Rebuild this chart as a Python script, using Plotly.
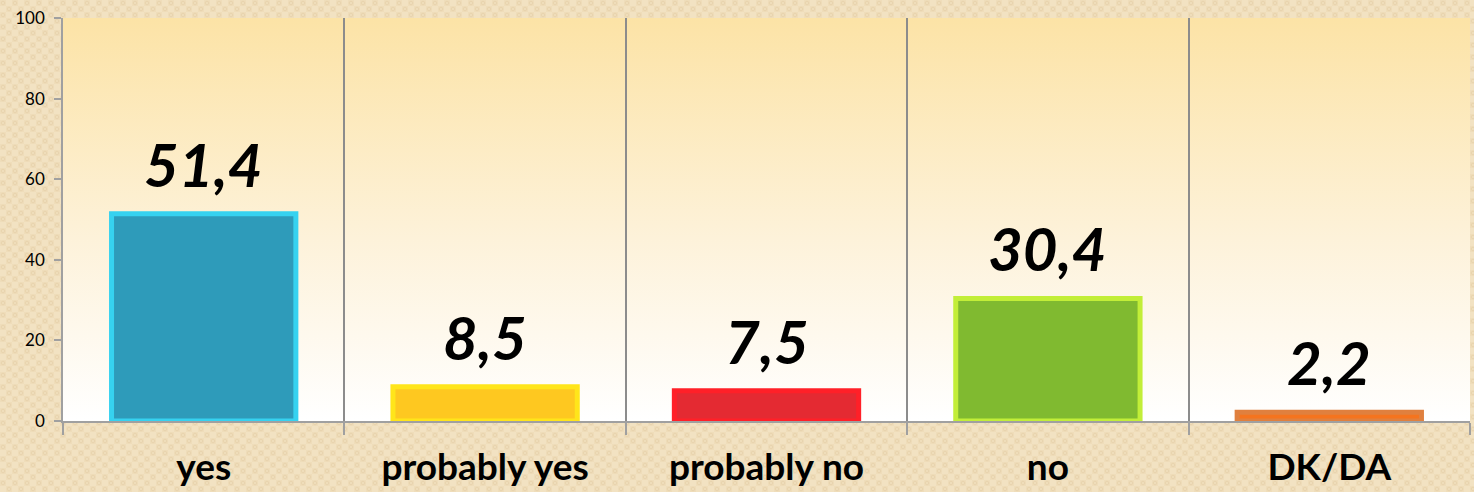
import base64
import plotly.graph_objects as go

# Survey answers and their shares (%)
categories = ["yes", "probably yes", "probably no", "no", "DK/DA"]
values = [51.4, 8.5, 7.5, 30.4, 2.2]
y_ticks = [0, 20, 40, 60, 80, 100]

# Bar styling per answer
fill_colors = ["#2E9BBA", "#FEC820", "#E42A32", "#80BA30", "#F5741E"]
edge_colors = ["#36D2F0", "#FFE51A", "#FF2028", "#C2EE38", "#E0803E"]

W, H = 1474, 492
M = dict(l=63, r=4, t=18, b=71)
plot_w = W - M["l"] - M["r"]
plot_h = H - M["t"] - M["b"]


def svg_uri(svg):
    return "data:image/svg+xml;base64," + base64.b64encode(svg.encode()).decode()


# Woven beige texture for the page background
texture = f"""<svg xmlns='http://www.w3.org/2000/svg' width='{W}' height='{H}'>
<defs><pattern id='p' width='12' height='12' patternUnits='userSpaceOnUse'>
<rect width='12' height='12' fill='#F2E2C2'/>
<rect width='6' height='6' fill='#EFDDBA'/>
<rect x='6' y='6' width='6' height='6' fill='#EFDDBA'/>
<circle cx='3' cy='3' r='1.8' fill='none' stroke='#E6D1AA' stroke-width='0.8'/>
<circle cx='9' cy='9' r='1.8' fill='none' stroke='#E6D1AA' stroke-width='0.8'/>
</pattern></defs>
<rect width='100%' height='100%' fill='url(#p)'/></svg>"""

# Cream-to-white wash inside the plotting area
wash = """<svg xmlns='http://www.w3.org/2000/svg' width='100' height='100' preserveAspectRatio='none'>
<defs><linearGradient id='g' x1='0' y1='0' x2='0' y2='1'>
<stop offset='0' stop-color='#FCE3A6'/>
<stop offset='0.55' stop-color='#FDF2DA'/>
<stop offset='1' stop-color='#FFFFFF'/>
</linearGradient></defs>
<rect width='100' height='100' fill='url(#g)'/></svg>"""

fig = go.Figure()
fig.add_trace(go.Bar(
    x=categories,
    y=values,
    width=0.655,
    marker=dict(color=fill_colors, line=dict(color=edge_colors, width=5)),
    hoverinfo="x+y",
))

for cat, val in zip(categories, values):
    fig.add_annotation(
        x=cat, y=val, text=f"{val:.1f}".replace(".", ","),
        showarrow=False, yanchor="bottom", yshift=12,
        font=dict(family="Lato", size=60, color="#000000", weight="bold", style="italic"),
    )

fig.update_layout(
    width=W, height=H,
    margin=dict(**M, pad=0),
    paper_bgcolor="#F2E2C2",
    plot_bgcolor="rgba(0,0,0,0)",
    showlegend=False,
    bargap=0.345,
    images=[
        dict(source=svg_uri(texture), xref="paper", yref="paper",
             x=-M["l"] / plot_w, y=1 + M["t"] / plot_h,
             sizex=W / plot_w, sizey=H / plot_h,
             sizing="stretch", layer="below", xanchor="left", yanchor="top"),
        dict(source=svg_uri(wash), xref="paper", yref="paper",
             x=0, y=1, sizex=1, sizey=1,
             sizing="stretch", layer="below", xanchor="left", yanchor="top"),
    ],
)

fig.update_xaxes(
    type="category",
    automargin=False,
    tickson="boundaries",
    showgrid=True, gridcolor="#8C8C8C", gridwidth=1.5,
    showline=True, linecolor="#A0A0A0", linewidth=1.5,
    ticks="outside", ticklen=12, tickcolor="#A0A0A0", tickwidth=1.5,
    ticklabelstandoff=13,
    tickfont=dict(family="Lato", size=37, color="#000000", weight="bold"),
    range=[-0.5, 4.5],
)

fig.update_yaxes(
    range=[0, 100],
    automargin=False,
    tickvals=y_ticks,
    showgrid=False, zeroline=False,
    showline=True, linecolor="#A0A0A0", linewidth=1.5,
    ticks="outside", ticklen=7, tickcolor="#A0A0A0", tickwidth=1.5,
    ticklabelstandoff=6,
    tickfont=dict(family="Lato", size=17, color="#000000"),
)

fig.write_html("out.html")
